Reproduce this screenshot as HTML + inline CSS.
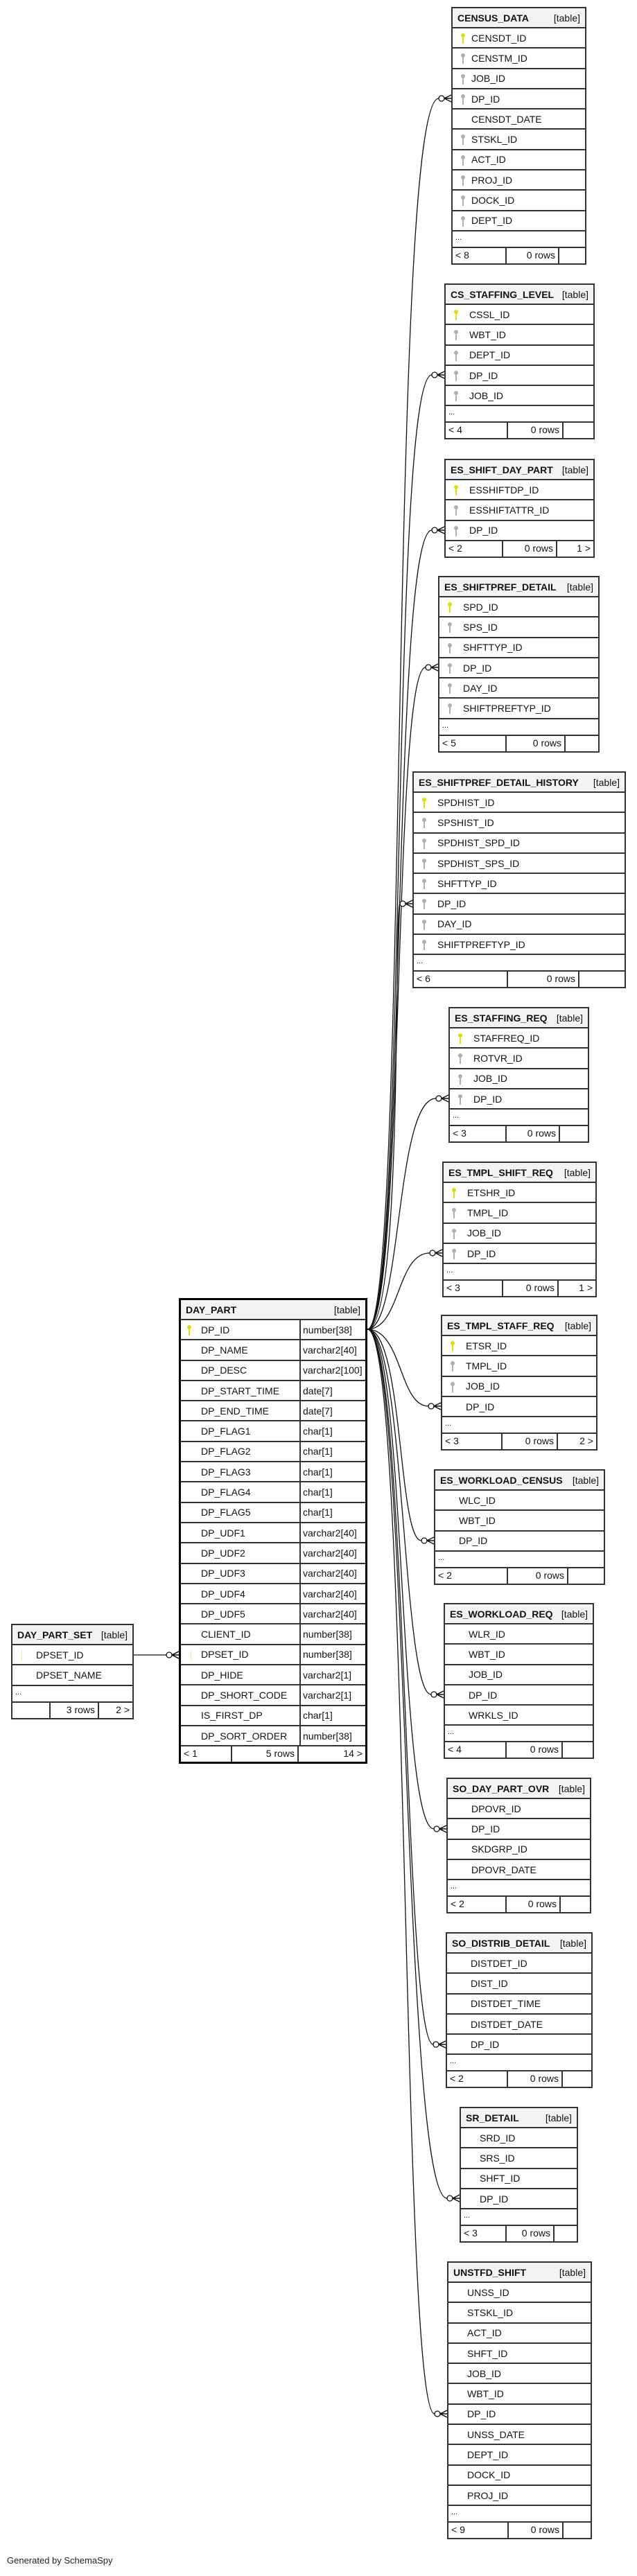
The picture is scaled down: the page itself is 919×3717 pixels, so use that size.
<!DOCTYPE html>
<html><head><meta charset="utf-8"><style>
body{margin:0;width:919px;height:3717px;background:#fff;position:relative;overflow:hidden;font-family:"Liberation Sans",sans-serif}
.t{position:absolute;border:2px solid #333;background:#fff;box-sizing:border-box;font-size:14px;color:#111}
.h{height:29px;background:#f3f3f3;border-bottom:2px solid #333;display:flex;justify-content:space-between;align-items:center;padding:0 7px;box-sizing:border-box;white-space:nowrap}
.h b{font-size:14px}
.h span{font-size:14px}
.r{height:29.3px;border-bottom:2px solid #333;box-sizing:border-box;display:flex;align-items:center;padding-left:34px;position:relative;white-space:nowrap}
.d{height:24px;border-bottom:2px solid #333;box-sizing:border-box;padding-left:4px;font-size:11px;line-height:18px}
.f{height:22px;display:flex;font-size:14px}
.f span{box-sizing:border-box;padding:0 4px;line-height:20px;white-space:nowrap}
.f span:nth-child(2){border-left:2px solid #333;border-right:2px solid #333;text-align:right}
.f span:nth-child(3){text-align:right}
.k{position:absolute;top:7px;width:6px;height:15px}
.k::before{content:"";position:absolute;left:0;top:0;width:6px;height:6px;border-radius:50%;background:currentColor}
.k::after{content:"";position:absolute;left:2px;top:4px;width:2px;height:11px;background:currentColor}
.y{color:#e0e000}.g{color:#b0b0b0}
.dp .r{padding-left:29px}
.dp .r i{position:absolute;left:171px;top:0;bottom:0;border-left:2px solid #333;font-style:normal;padding-left:3px;display:flex;align-items:center}
</style></head><body>
<svg width="919" height="3717" style="position:absolute;left:0;top:0" fill="none" stroke="#111" stroke-width="1.3">
<g id="lines">
<path d="M530,1918 C590,1918 560,142 633,142"/>
<path d="M530,1918 C588,1918 562,541 623,541"/>
<path d="M530,1918 C586,1918 564,765 623,765"/>
<path d="M530,1918 C584,1918 566,963 614,963"/>
<path d="M530,1918 C582,1918 568,1304 577,1304"/>
<path d="M530,1918 C580,1918 570,1585 629,1585"/>
<path d="M530,1918 C578,1918 572,1808 620,1808"/>
<path d="M530,1918 C580,1918 576,2029 618,2029"/>
<path d="M530,1918 C582,1918 574,2223 608,2223"/>
<path d="M530,1918 C584,1918 580,2445 622,2445"/>
<path d="M530,1918 C586,1918 574,2639 626,2639"/>
<path d="M530,1918 C588,1918 582,2950 625,2950"/>
<path d="M530,1918 C590,1918 580,3172 645,3172"/>
<path d="M530,1918 C592,1918 578,3483 627,3483"/>
<path d="M193,2388 L240,2388"/>
</g>
<g fill="#fff">
<circle cx="637" cy="142" r="4"/><circle cx="627" cy="541" r="4"/><circle cx="627" cy="765" r="4"/><circle cx="618" cy="963" r="4"/><circle cx="581" cy="1304" r="4"/><circle cx="633" cy="1585" r="4"/><circle cx="624" cy="1808" r="4"/><circle cx="622" cy="2029" r="4"/><circle cx="612" cy="2223" r="4"/><circle cx="626" cy="2445" r="4"/><circle cx="630" cy="2639" r="4"/><circle cx="629" cy="2950" r="4"/><circle cx="649" cy="3172" r="4"/><circle cx="631" cy="3483" r="4"/><circle cx="244" cy="2388" r="4"/>
</g>
<g stroke-width="1.5">
<path d="M641,142 L651,137 M641,142 L651,142 M641,142 L651,147"/>
<path d="M631,541 L641,536 M631,541 L641,541 M631,541 L641,546"/>
<path d="M631,765 L641,760 M631,765 L641,765 M631,765 L641,770"/>
<path d="M622,963 L632,958 M622,963 L632,963 M622,963 L632,968"/>
<path d="M585,1304 L595,1299 M585,1304 L595,1304 M585,1304 L595,1309"/>
<path d="M637,1585 L647,1580 M637,1585 L647,1585 M637,1585 L647,1590"/>
<path d="M628,1808 L638,1803 M628,1808 L638,1808 M628,1808 L638,1813"/>
<path d="M626,2029 L636,2024 M626,2029 L636,2029 M626,2029 L636,2034"/>
<path d="M616,2223 L626,2218 M616,2223 L626,2223 M616,2223 L626,2228"/>
<path d="M630,2445 L640,2440 M630,2445 L640,2445 M630,2445 L640,2450"/>
<path d="M634,2639 L644,2634 M634,2639 L644,2639 M634,2639 L644,2644"/>
<path d="M633,2950 L643,2945 M633,2950 L643,2950 M633,2950 L643,2955"/>
<path d="M653,3172 L663,3167 M653,3172 L663,3172 M653,3172 L663,3177"/>
<path d="M635,3483 L645,3478 M635,3483 L645,3483 M635,3483 L645,3488"/>
<path d="M248,2388 L258,2383 M248,2388 L258,2388 M248,2388 L258,2393"/>
</g>
</svg>

<div class="t" style="left:651px;top:10px;width:195px">
<div class="h"><b>CENSUS_DATA</b><span>[table]</span></div>
<div class="r" style="padding-left:27px"><span class="k y" style="left:12px"></span>CENSDT_ID</div>
<div class="r" style="padding-left:27px"><span class="k g" style="left:12px"></span>CENSTM_ID</div>
<div class="r" style="padding-left:27px"><span class="k g" style="left:12px"></span>JOB_ID</div>
<div class="r" style="padding-left:27px"><span class="k g" style="left:12px"></span>DP_ID</div>
<div class="r" style="padding-left:27px">CENSDT_DATE</div>
<div class="r" style="padding-left:27px"><span class="k g" style="left:12px"></span>STSKL_ID</div>
<div class="r" style="padding-left:27px"><span class="k g" style="left:12px"></span>ACT_ID</div>
<div class="r" style="padding-left:27px"><span class="k g" style="left:12px"></span>PROJ_ID</div>
<div class="r" style="padding-left:27px"><span class="k g" style="left:12px"></span>DOCK_ID</div>
<div class="r" style="padding-left:27px"><span class="k g" style="left:12px"></span>DEPT_ID</div>
<div class="d">...</div>
<div class="f"><span style="width:76px">&lt; 8</span><span style="width:78px">0 rows</span><span style="flex:1"></span></div>
</div>

<div class="t" style="left:641px;top:409px;width:217px">
<div class="h"><b>CS_STAFFING_LEVEL</b><span>[table]</span></div>
<div class="r"><span class="k y" style="left:12px"></span>CSSL_ID</div>
<div class="r"><span class="k g" style="left:12px"></span>WBT_ID</div>
<div class="r"><span class="k g" style="left:12px"></span>DEPT_ID</div>
<div class="r"><span class="k g" style="left:12px"></span>DP_ID</div>
<div class="r"><span class="k g" style="left:12px"></span>JOB_ID</div>
<div class="d">...</div>
<div class="f"><span style="width:88px">&lt; 4</span><span style="width:82px">0 rows</span><span style="flex:1"></span></div>
</div>

<div class="t" style="left:641px;top:662px;width:217px">
<div class="h"><b>ES_SHIFT_DAY_PART</b><span>[table]</span></div>
<div class="r"><span class="k y" style="left:12px"></span>ESSHIFTDP_ID</div>
<div class="r"><span class="k g" style="left:12px"></span>ESSHIFTATTR_ID</div>
<div class="r"><span class="k g" style="left:12px"></span>DP_ID</div>
<div class="f"><span style="width:81px">&lt; 2</span><span style="width:80px">0 rows</span><span style="flex:1">1 &gt;</span></div>
</div>

<div class="t" style="left:632px;top:831px;width:233px">
<div class="h"><b>ES_SHIFTPREF_DETAIL</b><span>[table]</span></div>
<div class="r"><span class="k y" style="left:12px"></span>SPD_ID</div>
<div class="r"><span class="k g" style="left:12px"></span>SPS_ID</div>
<div class="r"><span class="k g" style="left:12px"></span>SHFTTYP_ID</div>
<div class="r"><span class="k g" style="left:12px"></span>DP_ID</div>
<div class="r"><span class="k g" style="left:12px"></span>DAY_ID</div>
<div class="r"><span class="k g" style="left:12px"></span>SHIFTPREFTYP_ID</div>
<div class="d">...</div>
<div class="f"><span style="width:95px">&lt; 5</span><span style="width:87px">0 rows</span><span style="flex:1"></span></div>
</div>

<div class="t" style="left:595px;top:1113px;width:308px">
<div class="h"><b>ES_SHIFTPREF_DETAIL_HISTORY</b><span>[table]</span></div>
<div class="r"><span class="k y" style="left:12px"></span>SPDHIST_ID</div>
<div class="r"><span class="k g" style="left:12px"></span>SPSHIST_ID</div>
<div class="r"><span class="k g" style="left:12px"></span>SPDHIST_SPD_ID</div>
<div class="r"><span class="k g" style="left:12px"></span>SPDHIST_SPS_ID</div>
<div class="r"><span class="k g" style="left:12px"></span>SHFTTYP_ID</div>
<div class="r"><span class="k g" style="left:12px"></span>DP_ID</div>
<div class="r"><span class="k g" style="left:12px"></span>DAY_ID</div>
<div class="r"><span class="k g" style="left:12px"></span>SHIFTPREFTYP_ID</div>
<div class="d">...</div>
<div class="f"><span style="width:134px">&lt; 6</span><span style="width:105px">0 rows</span><span style="flex:1"></span></div>
</div>

<div class="t" style="left:647px;top:1453px;width:203px">
<div class="h"><b>ES_STAFFING_REQ</b><span>[table]</span></div>
<div class="r"><span class="k y" style="left:12px"></span>STAFFREQ_ID</div>
<div class="r"><span class="k g" style="left:12px"></span>ROTVR_ID</div>
<div class="r"><span class="k g" style="left:12px"></span>JOB_ID</div>
<div class="r"><span class="k g" style="left:12px"></span>DP_ID</div>
<div class="d">...</div>
<div class="f"><span style="width:80px">&lt; 3</span><span style="width:79px">0 rows</span><span style="flex:1"></span></div>
</div>

<div class="t" style="left:638px;top:1676px;width:223px">
<div class="h"><b>ES_TMPL_SHIFT_REQ</b><span>[table]</span></div>
<div class="r"><span class="k y" style="left:12px"></span>ETSHR_ID</div>
<div class="r"><span class="k g" style="left:12px"></span>TMPL_ID</div>
<div class="r"><span class="k g" style="left:12px"></span>JOB_ID</div>
<div class="r"><span class="k g" style="left:12px"></span>DP_ID</div>
<div class="d">...</div>
<div class="f"><span style="width:84px">&lt; 3</span><span style="width:82px">0 rows</span><span style="flex:1">1 &gt;</span></div>
</div>

<div class="t" style="left:636px;top:1897px;width:226px">
<div class="h"><b>ES_TMPL_STAFF_REQ</b><span>[table]</span></div>
<div class="r"><span class="k y" style="left:12px"></span>ETSR_ID</div>
<div class="r"><span class="k g" style="left:12px"></span>TMPL_ID</div>
<div class="r"><span class="k g" style="left:12px"></span>JOB_ID</div>
<div class="r">DP_ID</div>
<div class="d">...</div>
<div class="f"><span style="width:85px">&lt; 3</span><span style="width:82px">0 rows</span><span style="flex:1">2 &gt;</span></div>
</div>

<div class="t" style="left:626px;top:2120px;width:247px">
<div class="h"><b>ES_WORKLOAD_CENSUS</b><span>[table]</span></div>
<div class="r">WLC_ID</div>
<div class="r">WBT_ID</div>
<div class="r">DP_ID</div>
<div class="d">...</div>
<div class="f"><span style="width:103px">&lt; 2</span><span style="width:89px">0 rows</span><span style="flex:1"></span></div>
</div>

<div class="t" style="left:640px;top:2313px;width:217px">
<div class="h"><b>ES_WORKLOAD_REQ</b><span>[table]</span></div>
<div class="r">WLR_ID</div>
<div class="r">WBT_ID</div>
<div class="r">JOB_ID</div>
<div class="r">DP_ID</div>
<div class="r">WRKLS_ID</div>
<div class="d">...</div>
<div class="f"><span style="width:87px">&lt; 4</span><span style="width:83px">0 rows</span><span style="flex:1"></span></div>
</div>

<div class="t" style="left:644px;top:2565px;width:209px">
<div class="h"><b>SO_DAY_PART_OVR</b><span>[table]</span></div>
<div class="r">DPOVR_ID</div>
<div class="r">DP_ID</div>
<div class="r">SKDGRP_ID</div>
<div class="r">DPOVR_DATE</div>
<div class="d">...</div>
<div class="f"><span style="width:83px">&lt; 2</span><span style="width:80px">0 rows</span><span style="flex:1"></span></div>
</div>

<div class="t" style="left:643px;top:2788px;width:212px">
<div class="h"><b>SO_DISTRIB_DETAIL</b><span>[table]</span></div>
<div class="r">DISTDET_ID</div>
<div class="r">DIST_ID</div>
<div class="r">DISTDET_TIME</div>
<div class="r">DISTDET_DATE</div>
<div class="r">DP_ID</div>
<div class="d">...</div>
<div class="f"><span style="width:86px">&lt; 2</span><span style="width:81px">0 rows</span><span style="flex:1"></span></div>
</div>

<div class="t" style="left:663px;top:3040px;width:171px">
<div class="h"><b>SR_DETAIL</b><span>[table]</span></div>
<div class="r" style="padding-left:27px">SRD_ID</div>
<div class="r" style="padding-left:27px">SRS_ID</div>
<div class="r" style="padding-left:27px">SHFT_ID</div>
<div class="r" style="padding-left:27px">DP_ID</div>
<div class="d">...</div>
<div class="f"><span style="width:64px">&lt; 3</span><span style="width:71px">0 rows</span><span style="flex:1"></span></div>
</div>

<div class="t" style="left:645px;top:3263px;width:209px">
<div class="h"><b>UNSTFD_SHIFT</b><span>[table]</span></div>
<div class="r" style="padding-left:27px">UNSS_ID</div>
<div class="r" style="padding-left:27px">STSKL_ID</div>
<div class="r" style="padding-left:27px">ACT_ID</div>
<div class="r" style="padding-left:27px">SHFT_ID</div>
<div class="r" style="padding-left:27px">JOB_ID</div>
<div class="r" style="padding-left:27px">WBT_ID</div>
<div class="r" style="padding-left:27px">DP_ID</div>
<div class="r" style="padding-left:27px">UNSS_DATE</div>
<div class="r" style="padding-left:27px">DEPT_ID</div>
<div class="r" style="padding-left:27px">DOCK_ID</div>
<div class="r" style="padding-left:27px">PROJ_ID</div>
<div class="d">...</div>
<div class="f"><span style="width:85px">&lt; 9</span><span style="width:81px">0 rows</span><span style="flex:1"></span></div>
</div>

<div class="t dp" style="left:258px;top:1873px;width:272px;border:3px solid #000">
<div class="h"><b>DAY_PART</b><span>[table]</span></div>
<div class="r"><span class="k y" style="left:9px"></span>DP_ID<i>number[38]</i></div>
<div class="r">DP_NAME<i>varchar2[40]</i></div>
<div class="r">DP_DESC<i>varchar2[100]</i></div>
<div class="r">DP_START_TIME<i>date[7]</i></div>
<div class="r">DP_END_TIME<i>date[7]</i></div>
<div class="r">DP_FLAG1<i>char[1]</i></div>
<div class="r">DP_FLAG2<i>char[1]</i></div>
<div class="r">DP_FLAG3<i>char[1]</i></div>
<div class="r">DP_FLAG4<i>char[1]</i></div>
<div class="r">DP_FLAG5<i>char[1]</i></div>
<div class="r">DP_UDF1<i>varchar2[40]</i></div>
<div class="r">DP_UDF2<i>varchar2[40]</i></div>
<div class="r">DP_UDF3<i>varchar2[40]</i></div>
<div class="r">DP_UDF4<i>varchar2[40]</i></div>
<div class="r">DP_UDF5<i>varchar2[40]</i></div>
<div class="r">CLIENT_ID<i>number[38]</i></div>
<div class="r"><span style="position:absolute;left:14px;top:6px;width:1px;height:17px;background:#eeeeb0"></span>DPSET_ID<i>number[38]</i></div>
<div class="r">DP_HIDE<i>varchar2[1]</i></div>
<div class="r">DP_SHORT_CODE<i>varchar2[1]</i></div>
<div class="r">IS_FIRST_DP<i>char[1]</i></div>
<div class="r">DP_SORT_ORDER<i>number[38]</i></div>
<div class="f"><span style="width:72px">&lt; 1</span><span style="width:98px">5 rows</span><span style="flex:1">14 &gt;</span></div>
</div>

<div class="t" style="left:16px;top:2343px;width:177px">
<div class="h"><b>DAY_PART_SET</b><span>[table]</span></div>
<div class="r"><span style="position:absolute;left:13px;top:6px;width:1px;height:17px;background:#eeeeb0"></span>DPSET_ID</div>
<div class="r">DPSET_NAME</div>
<div class="d">...</div>
<div class="f"><span style="width:53px"></span><span style="width:72px">3 rows</span><span style="flex:1">2 &gt;</span></div>
</div>

<div style="position:absolute;left:10px;top:3687px;font-size:13px;color:#222">Generated by SchemaSpy</div>
</body></html>
